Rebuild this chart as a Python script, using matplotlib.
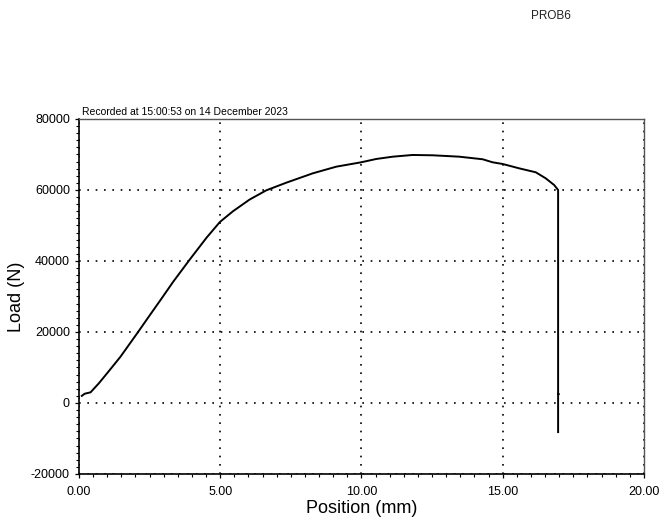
import numpy as np
import matplotlib.pyplot as plt
from matplotlib.ticker import MultipleLocator, FormatStrFormatter

plt.rcParams['font.family'] = ['Liberation Sans', 'DejaVu Sans']

# load curve (position mm, load N)
position = [0.10, 0.20, 0.41, 0.71, 1.06, 1.47, 2.06, 2.47, 2.93, 3.34, 3.93,
            4.52, 4.99, 5.45, 6.04, 6.63, 7.34, 8.28, 9.11, 9.99,
            10.52, 11.11, 11.81, 12.52, 13.46, 14.29, 14.64, 15.00, 15.58,
            16.17, 16.52, 16.82, 16.96, 16.96, 16.99, 16.96, 16.96]
load = [2000, 2600, 3000, 5600, 9000, 13040, 19630, 24300, 29500, 34200, 40500,
        46600, 51000, 54000, 57300, 59900, 62060, 64700, 66570, 67800,
        68730, 69380, 69860, 69770, 69380, 68650, 67800, 67320, 66100,
        64980, 63290, 61400, 60000, 2500, 2500, 2400, -8200]

title_right = "PROB6"
recorded = "Recorded at 15:00:53 on 14 December 2023"

fig = plt.figure(figsize=(6.67, 5.2), dpi=100)
ax = fig.add_axes([0.1184, 0.0885, 0.8471, 0.6827])

ax.plot(position, load, color='black', lw=1.4)

ax.set_xlim(0, 20)
ax.set_ylim(-20000, 80000)
ax.xaxis.set_major_locator(MultipleLocator(5))
ax.xaxis.set_minor_locator(MultipleLocator(0.5))
ax.yaxis.set_major_locator(MultipleLocator(20000))
ax.yaxis.set_minor_locator(MultipleLocator(2000))
ax.xaxis.set_major_formatter(FormatStrFormatter('%.2f'))
ax.yaxis.set_major_formatter(FormatStrFormatter('%d'))

ax.tick_params(which='both', direction='out', labelsize=9, colors='black')
ax.tick_params(which='major', length=3, width=0.9)
ax.tick_params(which='minor', length=2.5, width=0.8)
ax.tick_params(axis='x', pad=6)

ax.grid(True, which='major', color='black', linestyle=(0, (1, 4)), lw=1.2)

for s in ['left', 'bottom']:
    ax.spines[s].set_linewidth(1.2)
for s in ['top', 'right']:
    ax.spines[s].set_color('#555555')
    ax.spines[s].set_linewidth(1.0)

ax.set_xlabel("Position (mm)", fontsize=13, labelpad=1)
ax.set_ylabel("Load (N)", fontsize=13, labelpad=4)

ax.text(0.005, 1.005, recorded, transform=ax.transAxes, fontsize=7.5,
        ha='left', va='bottom')
fig.text(551 / 667, 1 - 16 / 520, title_right, fontsize=8.5,
         ha='center', va='center', color='#222222')

fig.savefig("out.png", dpi=100)
